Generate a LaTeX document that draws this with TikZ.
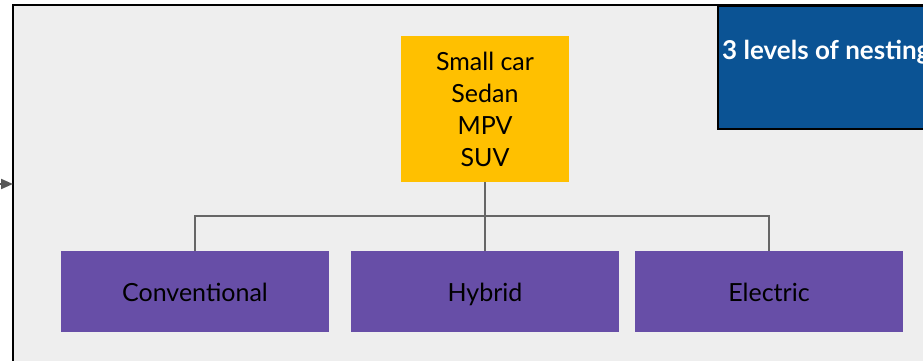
\documentclass[tikz,border=0pt]{standalone}
\usepackage{fontspec}
\setmainfont{Lato}
\usetikzlibrary{arrows.meta}
\definecolor{bggray}{HTML}{EEEEEE}
\definecolor{caryellow}{HTML}{FFC000}
\definecolor{carpurple}{HTML}{674EA7}
\definecolor{carblue}{HTML}{0B5394}
\definecolor{linegray}{HTML}{666666}
\tikzset{
  cattext/.style={font=\fontsize{25}{32}\selectfont, text=black},
  typebox/.style={fill=carpurple, minimum width=268pt, minimum height=81pt, inner sep=0pt, text height=24pt, text depth=5pt, cattext},
  conn/.style={draw=linegray, line width=2pt},
}
\begin{document}
\begin{tikzpicture}[x=1pt,y=-1pt]
\useasboundingbox (0,0) rectangle (923,361);
% outer frame
\fill[bggray] (13,5.5) rectangle (945,375);
\draw[black, line width=2pt] (13,375) -- (13,5.5) -- (945,5.5);
% incoming arrow
\coordinate (src) at (-20,184);
\coordinate (frameIn) at (13,184);
\draw[draw=linegray, line width=2pt, -{Triangle[length=12pt,width=10pt]}, color=linegray!85!black] (src) -- (frameIn);
% blue label box
\node[draw=black, line width=1.5pt, fill=carblue, minimum width=214pt, minimum height=122pt, anchor=north west, inner sep=0pt] (blue) at (717,6) {};
\node[anchor=west, inner sep=0pt, text=white, font=\fontsize{26}{30}\selectfont\bfseries] (bluetext) at (722,52) {3 levels of nesting};
% yellow category box
\node[fill=caryellow, minimum width=168pt, minimum height=146pt, inner sep=0pt, align=center, cattext] (cat) at (485,109) {Small car\\Sedan\\MPV\\SUV};
% purple boxes
\node[typebox] (conv) at (195,291.5) {Conventional};
\node[typebox] (hyb) at (485,291.5) {Hybrid};
\node[typebox] (elec) at (769,291.5) {Electric};
% connectors
\coordinate (junction) at (485,216);
\draw[conn] (cat.south) -- (hyb.north);
\draw[conn] (junction) -| (conv.north);
\draw[conn] (junction) -| (elec.north);
\end{tikzpicture}
\end{document}
